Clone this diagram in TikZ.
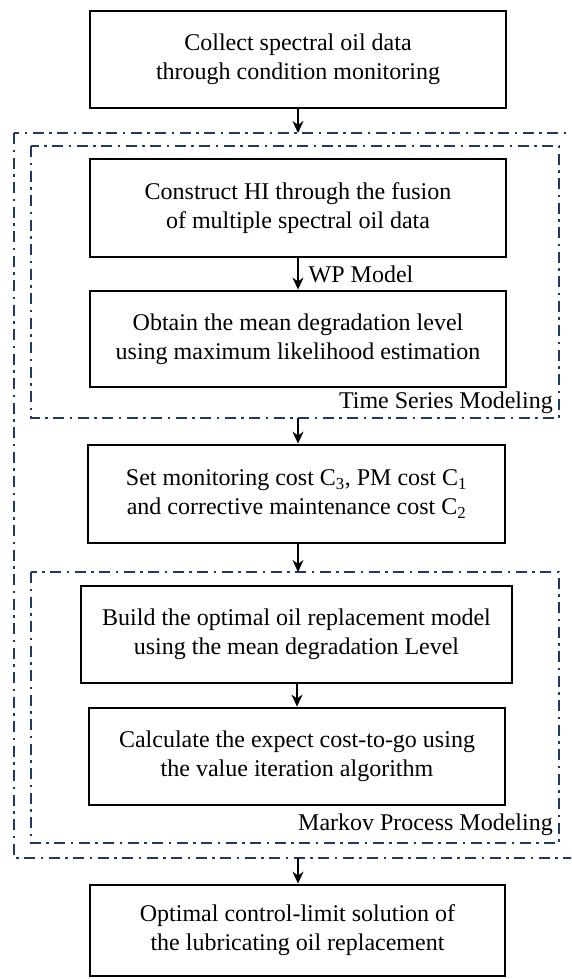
\documentclass[tikz,border=0pt]{standalone}
\usepackage{fontspec}
\setmainfont{Liberation Serif}
\usetikzlibrary{arrows.meta}
\definecolor{framenavy}{RGB}{32,56,100}
\tikzset{
  stepbox/.style={draw=black, line width=2.8pt, rectangle, align=center,
    inner sep=0pt, font=\fontsize{24}{29}\selectfont},
  flowarrow/.style={draw=black, line width=1.4pt, -{Stealth[length=12pt,width=11pt]}},
  groupframe/.style={draw=framenavy, line width=2.6pt,
    dash pattern=on 11pt off 5.5pt on 2.5pt off 5.5pt},
  grouplabel/.style={anchor=east, inner sep=0pt, font=\fontsize{24}{29}\selectfont}
}
\begin{document}
\begin{tikzpicture}[x=1pt,y=-1pt]
\clip (0,0) rectangle (571,979);
\fill[white] (0,0) rectangle (571,979);

% dash-dotted group frames
\draw[groupframe] (14,133) rectangle (590,858);
\draw[groupframe] (31,146) rectangle (559,418);
\draw[groupframe] (31,572) rectangle (559,843);

% points where the connectors meet the frames
\coordinate (outerTop) at (298,133);
\coordinate (tsBottom) at (298,418);
\coordinate (mkTop) at (298,572);
\coordinate (outerBottom) at (298,858);

% process steps
\node[stepbox, minimum width=416pt, minimum height=97pt] (b1) at (298,59.5)
  {Collect spectral oil data\\through condition monitoring};
\node[stepbox, minimum width=416pt, minimum height=98pt] (b2) at (298,208)
  {Construct HI through the fusion\\of multiple spectral oil data};
\node[stepbox, minimum width=416pt, minimum height=96pt] (b3) at (298,339)
  {Obtain the mean degradation level\\using maximum likelihood estimation};
\node[stepbox, minimum width=417pt, minimum height=98pt] (b4) at (296.5,494)
  {Set monitoring cost C\textsubscript{3}, PM cost C\textsubscript{1}\\and corrective maintenance cost C\textsubscript{2}};
\node[stepbox, minimum width=431pt, minimum height=97pt] (b5) at (296.5,634.5)
  {Build the optimal oil replacement model\\using the mean degradation Level};
\node[stepbox, minimum width=416pt, minimum height=97pt] (b6) at (297,756.5)
  {Calculate the expect cost-to-go using\\the value iteration algorithm};
\node[stepbox, minimum width=415pt, minimum height=91pt] (b7) at (297.5,930.5)
  {Optimal control-limit solution of\\the lubricating oil replacement};

% frame labels
\node[grouplabel] (tsLabel) at (553,403) {Time Series Modeling};
\node[grouplabel] (mkLabel) at (553,825) {Markov Process Modeling};

% connectors
\draw[flowarrow] (b1.south) -- (outerTop);
\draw[flowarrow] (b2.south) -- node[right, xshift=10pt, inner sep=0pt, font=\fontsize{24}{29}\selectfont] (wp) {WP Model} (b3.north);
\draw[flowarrow] (tsBottom) -- (tsBottom |- b4.north);
\draw[flowarrow] (b4.south -| mkTop) -- (mkTop);
\draw[flowarrow] (b5.south -| b6.north) -- (b6.north);
\draw[flowarrow] (outerBottom) -- (outerBottom |- b7.north);
\end{tikzpicture}
\end{document}
